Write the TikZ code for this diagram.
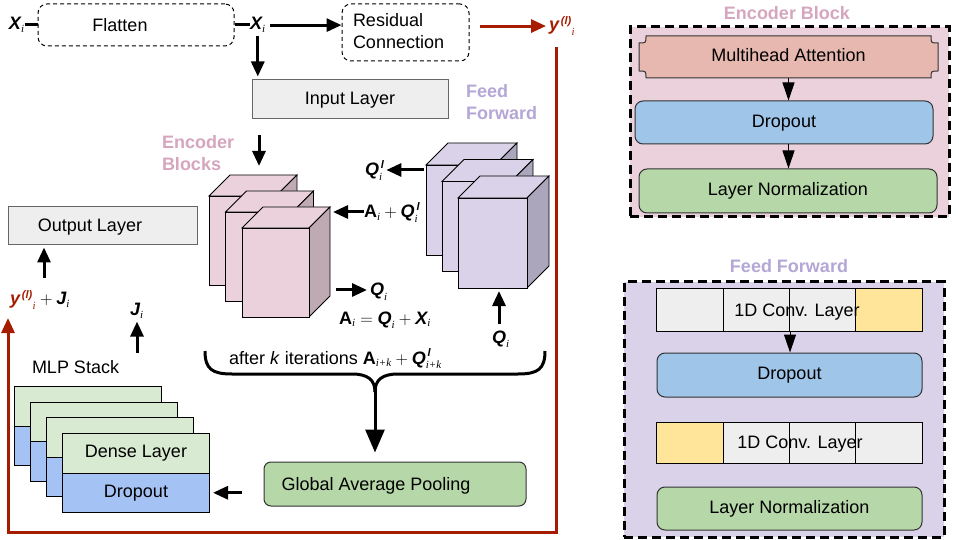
\documentclass[tikz,border=0pt]{standalone}
\usepackage{fontspec}
\setmainfont{Liberation Sans}
\newfontfamily\serifrm{Liberation Serif}
\usetikzlibrary{arrows.meta,calc}
\definecolor{pinkF}{HTML}{EAD1DC}
\definecolor{pinkS}{HTML}{BFA9B3}
\definecolor{lavF}{HTML}{D9D2E9}
\definecolor{lavS}{HTML}{ABA6BB}
\definecolor{grayF}{HTML}{EEEEEE}
\definecolor{grayB}{HTML}{666666}
\definecolor{greenF}{HTML}{B6D7A8}
\definecolor{lgreenF}{HTML}{D9EAD3}
\definecolor{blueF}{HTML}{9FC5E8}
\definecolor{mblueF}{HTML}{A4C2F4}
\definecolor{salmonF}{HTML}{E6B8AF}
\definecolor{yellowF}{HTML}{FFE599}
\definecolor{darkred}{HTML}{A61C00}
\definecolor{pinkT}{HTML}{D5A6BD}
\definecolor{lavT}{HTML}{B4A7D6}
\newcommand\myBV[1]{\mbox{\bfseries\itshape #1}}
\newcommand\myBU[1]{\mbox{\bfseries #1}}
\newcommand\mySbF{\fontsize{11}{11}\selectfont\serifrm\itshape}
\newcommand\mySpF{\fontsize{11}{11}\selectfont\bfseries\itshape}
\newcommand\MySb[1]{_{\mbox{\mySbF #1}}}
\newcommand\MySp[1]{^{\mbox{\mySpF\,#1}}}
% x y w h d front side
\newcommand\mycube[7]{%
  \filldraw[fill=#6, draw=black, line width=0.8pt] (#1,#2) -- ++(#5,-#5) -- ++(#3,0) -- ++(-#5,#5) -- cycle;
  \filldraw[fill=#7, draw=black, line width=0.8pt] (#1+#3,#2) -- ++(#5,-#5) -- ++(0,#4) -- ++(-#5,#5) -- cycle;
  \filldraw[fill=#6, draw=black, line width=0.8pt] (#1,#2) rectangle ++(#3,#4);
}
\begin{document}
\begin{tikzpicture}[x=1pt,y=-1pt, font=\fontsize{18}{22}\selectfont,
  txt/.style={inner sep=0pt, outer sep=0pt},
  ttl/.style={txt, font=\fontsize{18}{22}\selectfont\bfseries},
  arr/.style={line width=3pt, -{Triangle[length=15pt,width=13pt]}},
  thk/.style={line width=3pt},
  redarr/.style={line width=3pt, draw=darkred, -{Triangle[length=15pt,width=13pt]}},
  dbox/.style={draw, dash pattern=on 4pt off 3pt, line width=1pt, rounded corners=9pt, inner sep=0pt},
  graybox/.style={draw=grayB, fill=grayF, line width=1pt, inner sep=0pt, text height=12.9pt, text depth=3.8pt},
  rbox/.style={draw=black!80, line width=1pt, rounded corners=8pt, inner sep=0pt, text height=12.9pt, text depth=3.8pt},
  panel/.style={draw, line width=3pt, dash pattern=on 9pt off 5pt, inner sep=0pt},
  mycell/.style={draw, line width=1pt, inner sep=0pt, minimum width=66.25pt, minimum height=42pt},
  card/.style={draw, line width=1pt, inner sep=0pt, minimum width=147pt, minimum height=39.5pt, anchor=north west, text height=12.9pt, text depth=3.8pt},
  sarr/.style={line width=1pt, -{Triangle[length=18pt,width=12pt]}},
  brace/.style={line width=3pt}
]
\fill[white] (0,0) rectangle (959,540);
\useasboundingbox (0,0) rectangle (959,540);

% ---------- top row ----------
\node[txt, anchor=base west] (Xa) at (9,30) {$\myBV{X}\MySb{i}$};
\node[dbox, minimum width=196pt, minimum height=42pt] (flat) at (136,25) {};
\node[txt] (flattxt) at (120,25) {Flatten};
\node[txt, anchor=base west] (Xb) at (250,30) {$\myBV{X}\MySb{i}$};
\node[dbox, minimum width=127pt, minimum height=57pt] (res) at (405.5,32.5) {};
\node[txt, anchor=base west] (res1) at (353,27) {Residual};
\node[txt, anchor=base west] (res2) at (353,49) {Connection};
\node[txt, anchor=base west, text=darkred] (yl) at (549,31) {${\myBV{y}\MySp{(l)}}\MySb{i}$};

\draw[thk] (flat.west -| Xa.east) -- (flat.west);
\draw[thk] (flat.east) -- (flat.east -| Xb.west);
\draw[arr, shorten <=4pt] (Xb.east) -- (Xb.east -| res.west);
\draw[redarr, shorten <=10pt, shorten >=3pt] (yl.west -| res.east) -- (yl.west);

% ---------- input layer ----------
\node[graybox, minimum width=196pt, minimum height=39pt] (input) at (350,99.5) {Input Layer};
\draw[arr, shorten <=3pt, shorten >=3pt] (Xb.south) -- (Xb.south |- input.north);
\coordinate (pinktop) at (259,166);
\draw[arr, shorten <=16pt] (input.south -| pinktop) -- (pinktop);

\node[ttl, anchor=base west, text=lavT] (ff1) at (466,98) {Feed};
\node[ttl, anchor=base west, text=lavT] (ff2) at (466,120) {Forward};
\node[ttl, anchor=base west, text=pinkT] (eb1) at (162,149) {Encoder};
\node[ttl, anchor=base west, text=pinkT] (eb2) at (162,171) {Blocks};

% ---------- cubes ----------
\mycube{209}{196}{67}{89}{21}{pinkF}{pinkS}
\mycube{225.5}{212}{67}{89}{21}{pinkF}{pinkS}
\mycube{242}{228}{67}{89}{21}{pinkF}{pinkS}
\mycube{426}{165}{69}{90}{22}{lavF}{lavS}
\mycube{442}{181.5}{69}{90}{22}{lavF}{lavS}
\mycube{458}{198}{69}{90}{22}{lavF}{lavS}

\node[txt, anchor=base west] (ql) at (365,176) {$\myBV{Q}\MySp{l}\MySb{i}$};
\coordinate (lavL) at (424,170);
\draw[arr, shorten >=2pt] (lavL) -- (lavL -| ql.east);

\node[txt, anchor=base west] (aq) at (364,218) {$\myBU{A}\MySb{i}+\myBV{Q}\MySp{l}\MySb{i}$};
\coordinate (pinkR) at (333,212);
\draw[arr] (aq.west |- pinkR) -- (pinkR);

\node[txt, anchor=base west] (q1) at (370,296) {$\myBV{Q}\MySb{i}$};
\coordinate (pinkR2) at (336,290);
\draw[arr, shorten >=3pt] (pinkR2) -- (pinkR2 -| q1.west);

\node[txt, anchor=base west] (aeq) at (339,324) {$\myBU{A}\MySb{i}=\myBV{Q}\MySb{i}+\myBV{X}\MySb{i}$};

\node[txt, anchor=base west] (q2) at (492,343) {$\myBV{Q}\MySb{i}$};
\coordinate (lavB) at (499,291);
\draw[arr, shorten <=6pt] (q2.north -| lavB) -- (lavB);

% ---------- brace ----------
\node[txt, anchor=base west] (iter) at (229,364) {after \textit{k} iterations $\myBU{A}\MySb{i+k}+\myBV{Q}\MySp{l}\MySb{i+k}$};
\draw[brace] (205,351) .. controls (205,369) and (212,374) .. (232,374) -- (352,374) .. controls (368,374) and (375,380) .. (375,392);
\draw[brace] (545,351) .. controls (545,369) and (538,374) .. (518,374) -- (398,374) .. controls (382,374) and (375,380) .. (375,392);
\node[rbox, fill=greenF, minimum width=262pt, minimum height=44pt, rounded corners=7pt] (gap) at (395,484) {};
\node[txt, anchor=base] (gaptxt) at (376,490) {Global Average Pooling};
\coordinate (bt) at (375,388);
\draw[line width=3pt, -{Triangle[length=23pt,width=19pt]}, shorten >=9pt] (bt) -- (bt |- gap.north);

% ---------- MLP stack ----------
\node[card, fill=lgreenF] (g1) at (14,386) {};
\node[card, fill=mblueF] (b1) at (14,425.5) {};
\node[card, fill=lgreenF] (g2) at (30,401.5) {};
\node[card, fill=mblueF] (b2) at (30,441) {};
\node[card, fill=lgreenF] (g3) at (46,417) {};
\node[card, fill=mblueF] (b3) at (46,456.5) {};
\node[card, fill=lgreenF] (g4) at (62,433) {Dense Layer};
\node[card, fill=mblueF] (b4) at (62,472.5) {Dropout};
\draw[arr, shorten <=22pt, shorten >=3pt] (gap.west |- b4.east) -- (b4.east);

\node[txt, anchor=base west] (mlp) at (32,373) {MLP Stack};
\node[txt, anchor=base west] (J) at (130,316) {$\myBV{J}\MySb{i}$};
\coordinate (Jb) at (137,353);
\draw[arr, shorten >=3pt] (Jb) -- (Jb |- J.south);

\node[graybox, minimum width=189pt, minimum height=38pt] (out) at (102.5,226) {};
\node[txt, anchor=base] (outtxt) at (90,232) {Output Layer};
\node[txt, anchor=base west] (yJ) at (10,305) {$\textcolor{darkred}{{\myBV{y}\MySp{(l)}}\MySb{i}}+\myBV{J}\MySb{i}$};
\coordinate (oa) at (44,278);
\draw[arr, shorten >=2pt] (oa) -- (oa |- out.south);

% ---------- red feedback line ----------
\coordinate (r1) at (556,47);
\coordinate (r2) at (556,532);
\coordinate (r3) at (8,532);
\coordinate (r4) at (8,318);
\draw[redarr] (r1) -- (r2) -- (r3) -- (r4);

% ---------- Encoder Block panel ----------
\node[panel, fill=pinkF, minimum width=319pt, minimum height=190pt] (encp) at (789.5,122) {};
\node[ttl, anchor=base, text=pinkT] (enct) at (787,19.5) {Encoder Block};
\filldraw[fill=salmonF, draw=black!80, line width=1pt]
  (646,36) -- (931,36) .. controls (931,43) .. (938,43) -- (938,71) .. controls (931,71) .. (931,78)
  -- (646,78) .. controls (646,71) .. (639,71) -- (639,43) .. controls (646,43) .. (646,36) -- cycle;
\node[txt, minimum width=299pt, minimum height=42pt, text height=12.9pt, text depth=3.8pt] (mha) at (788.5,57) {Multihead Attention};
\node[rbox, fill=blueF, minimum width=298pt, minimum height=43pt] (edrop) at (784,122.5) {Dropout};
\node[rbox, fill=greenF, minimum width=298pt, minimum height=44pt] (eln) at (788,191) {Layer Normalization};
\draw[sarr] (mha.south) -- (mha.south |- edrop.north);
\draw[sarr] (edrop.south -| mha.south) -- (eln.north -| mha.south);

% ---------- Feed Forward panel ----------
\node[panel, fill=lavF, minimum width=320pt, minimum height=255pt] (ffp) at (784,409.5) {};
\node[ttl, anchor=base, text=lavT] (fft) at (789,272.5) {Feed Forward};
\node[mycell, fill=grayF] (c11) at (690.1,310) {};
\node[mycell, fill=grayF] (c12) at (756.4,310) {};
\node[mycell, fill=grayF] (c13) at (822.6,310) {};
\node[mycell, fill=yellowF] (c14) at (888.9,310) {};
\node[txt, anchor=base] (c1txt) at (797,316.5) {1D Conv. Layer};
\node[rbox, fill=blueF, minimum width=265pt, minimum height=44pt] (ffdrop) at (789.5,375) {Dropout};
\draw[sarr] (c12.south east) -- (c12.south east |- ffdrop.north);
\node[mycell, fill=yellowF, minimum height=41pt] (c21) at (690.1,442.5) {};
\node[mycell, fill=grayF, minimum height=41pt] (c22) at (756.4,442.5) {};
\node[mycell, fill=grayF, minimum height=41pt] (c23) at (822.6,442.5) {};
\node[mycell, fill=grayF, minimum height=41pt] (c24) at (888.9,442.5) {};
\node[txt, anchor=base] (c2txt) at (800,448.5) {1D Conv. Layer};
\node[rbox, fill=greenF, minimum width=265pt, minimum height=43pt] (ffln) at (789.5,508.5) {Layer Normalization};
\end{tikzpicture}
\end{document}
